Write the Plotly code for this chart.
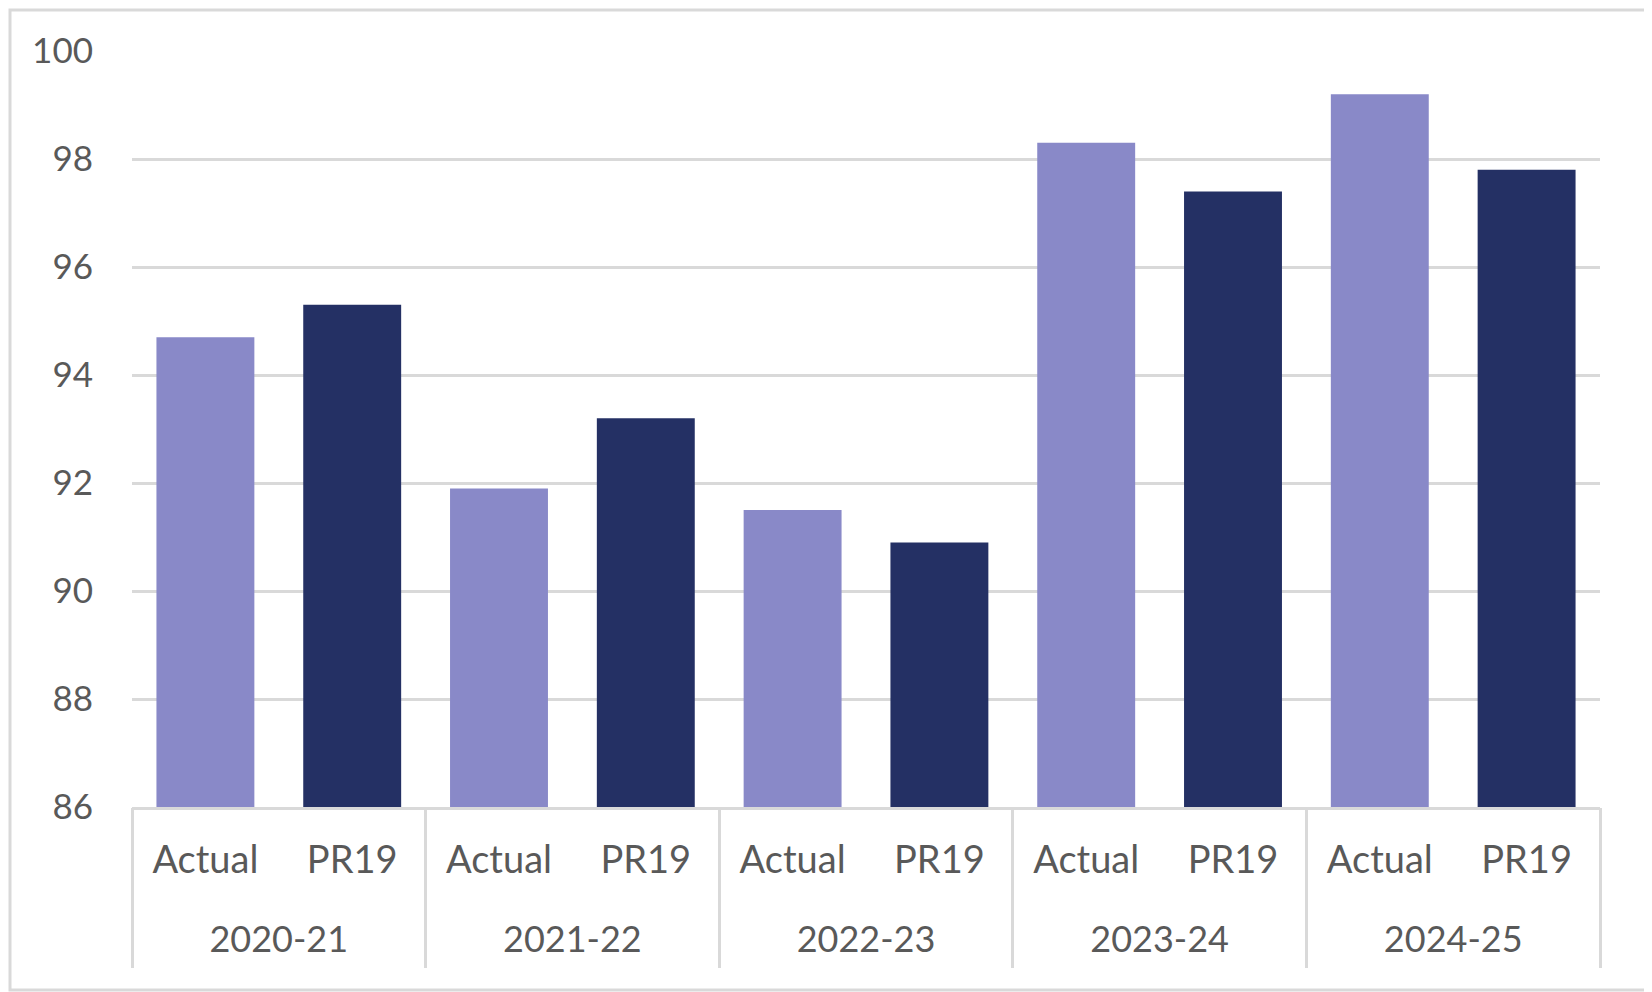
import plotly.graph_objects as go

years = ["2020-21", "2021-22", "2022-23", "2023-24", "2024-25"]
series = ["Actual", "PR19"]
actual = [94.7, 91.9, 91.5, 98.3, 99.2]
pr19 = [95.3, 93.2, 90.9, 97.4, 97.8]
colors = {"Actual": "#8989C8", "PR19": "#243064"}

# flatten: year -> (Actual, PR19), one slot per bar
inner, vals, cols = [], [], []
for i, yr in enumerate(years):
    for name, v in zip(series, (actual[i], pr19[i])):
        inner.append(name)
        vals.append(v)
        cols.append(colors[name])
xpos = list(range(len(vals)))
n = len(series)
group_mid = [i * n + (n - 1) / 2 for i in range(len(years))]
group_edges = [i * n - 0.5 for i in range(len(years) + 1)]

W, H = 1652, 992
ml, mr, mt, mb = 124, 60, 43, 193
grid = "#D9D9D9"
txt = "#595959"
fnt = "Lato, Open Sans, sans-serif"

fig = go.Figure(go.Bar(x=xpos, y=vals, marker_color=cols, marker_line_width=0))

fig.update_layout(
    width=W, height=H, showlegend=False,
    margin=dict(l=ml, r=mr, t=mt, b=mb),
    plot_bgcolor="white", paper_bgcolor="white",
    bargap=0.333,
    font=dict(family=fnt, size=35, color=txt),
    xaxis=dict(range=[-0.5, len(vals) - 0.5], tickvals=xpos, ticktext=inner,
               showline=True, linecolor=grid, linewidth=2.5, showgrid=False,
               zeroline=False, ticks="", ticklabelstandoff=18,
               tickfont=dict(size=38), automargin=False),
    xaxis2=dict(overlaying="x", matches="x", side="bottom", anchor="y",
                tickvals=group_mid, ticktext=years, showgrid=False,
                zeroline=False, ticks="", ticklabelstandoff=108,
                tickfont=dict(size=36), automargin=False),
    xaxis3=dict(overlaying="x", matches="x", side="bottom", anchor="y",
                tickvals=group_edges, showticklabels=False, showgrid=False,
                zeroline=False, ticks="outside", ticklen=160, tickwidth=2.5,
                tickcolor=grid, automargin=False),
    yaxis=dict(range=[86, 100], dtick=2, showgrid=True, gridcolor=grid,
               gridwidth=2.5, zeroline=False, ticklabelstandoff=38,
               automargin=False),
)
# invisible traces so the extra axes get drawn
fig.add_trace(go.Scatter(x=group_mid, y=[None] * len(years), xaxis="x2",
                         hoverinfo="skip", showlegend=False))
fig.add_trace(go.Scatter(x=group_edges, y=[None] * len(group_edges), xaxis="x3",
                         hoverinfo="skip", showlegend=False))

# outer frame around the image
pw, ph = W - ml - mr, H - mt - mb
fig.add_shape(type="rect", xref="paper", yref="paper",
              x0=-(ml - 2) / pw, x1=1 + (mr - 10) / pw,
              y0=-(mb - 10) / ph, y1=1 + (mt - 2) / ph,
              line=dict(color=grid, width=3), layer="below")

fig.write_html("out.html")
